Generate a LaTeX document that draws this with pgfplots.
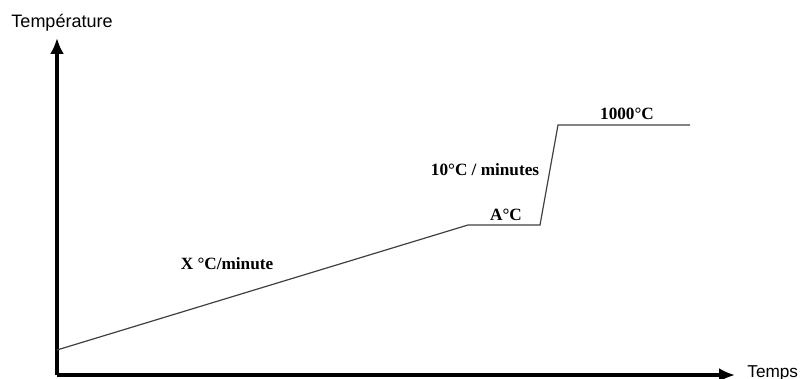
\documentclass[border=0pt]{standalone}
\usepackage{fontspec}
\setmainfont{Liberation Serif}
\setsansfont{Liberation Sans}
\usepackage{pgfplots}
\pgfplotsset{compat=1.18}
\usetikzlibrary{arrows.meta}

\begin{document}
\begin{tikzpicture}
% page frame: 801x379 px at 0.5pt per px, axis origin at px (57,375)
\path[use as bounding box] (-28.5pt,-2pt) rectangle (372pt,187.5pt);
\begin{axis}[
    x=0.5pt, y=0.5pt,
    at={(0,0)}, anchor=origin,
    xmin=57, xmax=735,
    ymin=0, ymax=337,
    axis lines=left,
    axis line style={line width=2.2pt, -{Latex[length=8pt,width=7pt]}},
    xtick=\empty, ytick=\empty,
    clip=false,
]
\addplot[color=black!75, line width=0.6pt] coordinates {
    (57,25) (468,150) (540,150) (558,250) (690,250)
};
\node[font=\sffamily\fontsize{9}{10}\selectfont] at (axis cs:62,352) {Température};
\node[font=\sffamily\fontsize{8.6}{10}\selectfont, anchor=west, inner sep=0pt] at (axis cs:747,2) {Temps};
\node[font=\bfseries\fontsize{8.6}{10}\selectfont] at (axis cs:227,111) {X °C/minute};
\node[font=\bfseries\fontsize{8.6}{10}\selectfont] at (axis cs:506,160) {A°C};
\node[font=\bfseries\fontsize{8.6}{10}\selectfont] at (axis cs:485,205) {10°C / minutes};
\node[font=\bfseries\fontsize{8.6}{10}\selectfont] at (axis cs:627,261) {1000°C};
\end{axis}
\end{tikzpicture}
\end{document}
